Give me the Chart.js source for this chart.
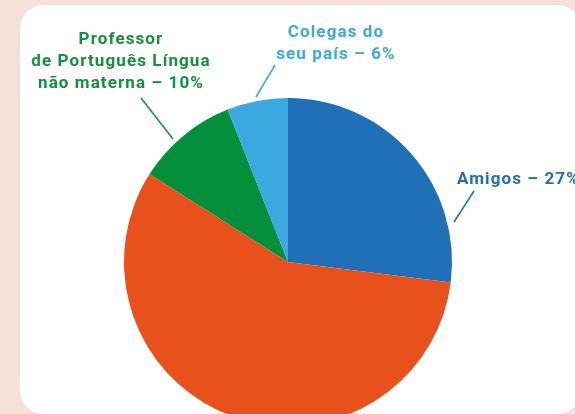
<!DOCTYPE html>
<html>
<head>
<meta charset="utf-8">
<script src="https://cdn.jsdelivr.net/npm/chart.js@4.4.1/dist/chart.umd.min.js"></script>
<style>
  html, body { margin:0; padding:0; width:575px; height:414px; overflow:hidden; background:#f6e1da; }
  #panel { position:absolute; left:20px; top:5px; width:561px; height:409px; background:#ffffff; border-radius:24px; }
  #wrap { position:absolute; left:0; top:0; width:575px; height:440px; }
</style>
</head>
<body>
<div id="panel"></div>
<div id="wrap"><canvas id="c" width="575" height="440"></canvas></div>
<script>
const categories = ["Amigos", "Outros", "Professor de Português Língua não materna", "Colegas do seu país"];
const values = [27, 57, 10, 6];
const colors = ["#1f70b7", "#e8501c", "#048f3a", "#39a9e0"];
const labelLines = [
  ["Amigos – 27%"],
  [],
  ["Professor", "de Português Língua", "não materna – 10%"],
  ["Colegas do", "seu país – 6%"]
];
const textColors = ["#1f6fb5", null, "#13913d", "#3aaae0"];

const labelPlugin = {
  id: 'labels',
  afterDraw(chart) {
    const ctx = chart.ctx;
    const arc = chart.getDatasetMeta(0).data[0];
    const cx = arc.x, cy = arc.y;
    ctx.save();
    ctx.font = "bold 17px Roboto";
    if ('letterSpacing' in ctx) ctx.letterSpacing = "1.1px";
    ctx.textBaseline = "middle";
    const specs = {
      0: { tx: 169, ty: -82, align: "left", lh: 22, line: [[166, -40], [186, -71]] },
      2: { tx: -167, ty: -222, align: "center", lh: 22, line: [[-115, -123], [-147, -164]] },
      3: { tx: 48, ty: -229, align: "center", lh: 22, line: [[-32, -165], [-13, -197]] }
    };
    Object.keys(specs).forEach(k => {
      const s = specs[k];
      const col = textColors[k];
      ctx.fillStyle = col;
      ctx.strokeStyle = col;
      ctx.textAlign = s.align;
      labelLines[k].forEach((t, i) => {
        ctx.fillText(t, cx + s.tx, cy + s.ty + i * s.lh);
      });
      ctx.lineWidth = 1.5;
      ctx.beginPath();
      ctx.moveTo(cx + s.line[0][0], cy + s.line[0][1]);
      ctx.lineTo(cx + s.line[1][0], cy + s.line[1][1]);
      ctx.stroke();
    });
    ctx.restore();
  }
};

new Chart(document.getElementById('c'), {
  type: 'pie',
  data: {
    labels: categories,
    datasets: [{ data: values, backgroundColor: colors, borderWidth: 0 }]
  },
  options: {
    responsive: false,
    animation: false,
    layout: { padding: { left: 124, right: 123, top: 98, bottom: 14 } },
    plugins: { legend: { display: false }, tooltip: { enabled: false } }
  },
  plugins: [labelPlugin]
});
</script>
</body>
</html>
